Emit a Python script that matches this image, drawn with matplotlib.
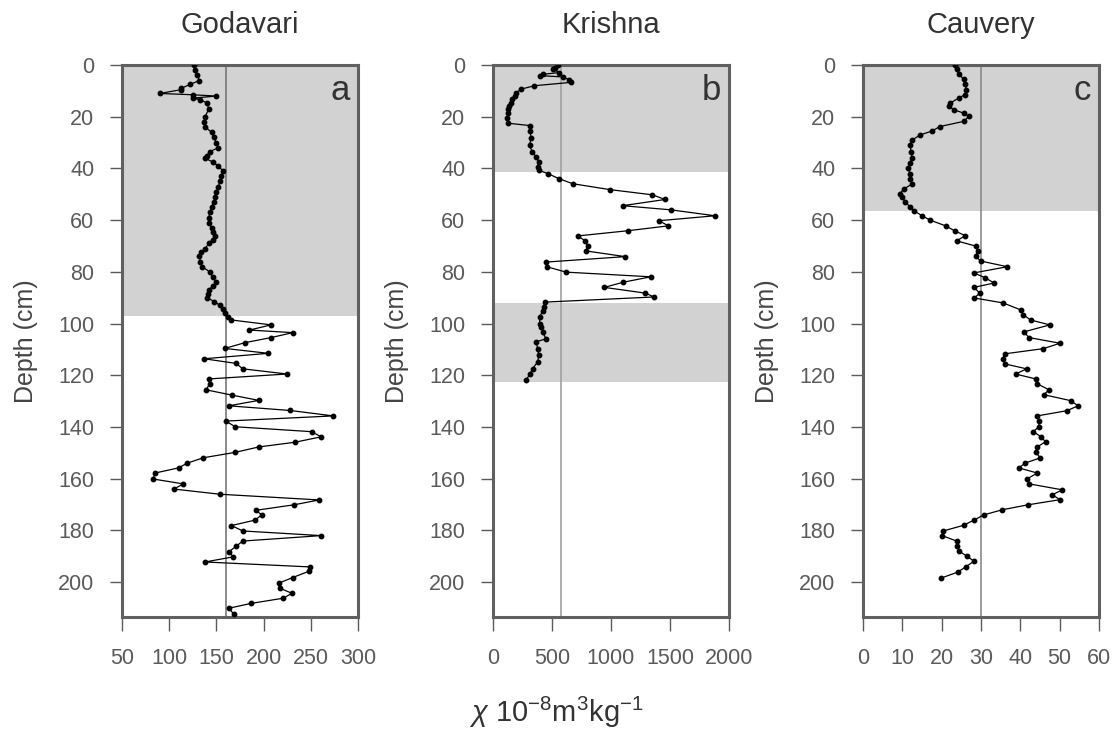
import matplotlib.pyplot as plt

plt.rcParams['font.family'] = ['Liberation Sans', 'DejaVu Sans']
plt.rcParams['mathtext.fontset'] = 'custom'
plt.rcParams['mathtext.rm'] = 'Liberation Sans'
plt.rcParams['mathtext.it'] = 'Liberation Sans:italic'

# Godavari (panel a)
depth_a = [0, 2, 4, 6, 7.5, 9, 9.5, 11, 11.5, 12, 12.8, 13.4, 14.7, 17, 20, 22, 24, 26, 28,
           30, 32, 33.5, 35, 36, 37.5, 39, 41, 43, 45, 47, 49, 51, 53, 55, 57, 59, 61, 63,
           64.5, 66, 67.5, 69, 71, 72.5, 74, 76, 78, 80, 82, 84, 85.5, 87, 88.5, 90, 91.5,
           93, 94.5, 96, 97.5, 98.6, 100.5, 102.5, 103.5, 105.4, 107.4, 109.6, 111.5, 113.6,
           115.4, 117.5, 119.5, 121.4, 123.3, 125.6, 127.7, 129.7, 131.8, 133.6, 135.7,
           137.7, 139.9, 141.8, 143.8, 145.9, 147.7, 149.8, 151.9, 154, 155.8, 157.8, 160.1,
           162, 164, 166, 168.2, 170.1, 172.2, 174, 176, 178.1, 180.2, 182, 184.1, 186.1,
           188.3, 190.2, 192.2, 194.1, 195.8, 198.2, 200.4, 202.3, 204.3, 206.2, 208.2,
           210.1, 212.5]
chi_a = [126, 127, 130, 132, 122, 113, 113, 90, 125, 150, 125, 133, 140, 142, 138, 137, 138,
         145, 147, 150, 152, 143, 140, 138, 146, 152, 157, 155, 154, 152, 150, 149, 147, 145,
         143, 142, 142, 145, 146, 149, 146, 142, 138, 134, 132, 133, 135, 143, 146, 150, 146,
         142, 141, 140, 148, 154, 157, 159, 162, 166, 208, 185, 231, 208, 180, 159, 205, 137,
         171, 178, 225, 142, 143, 139, 167, 195, 163, 228, 274, 160, 170, 251, 261, 233, 195,
         170, 136, 119, 110, 85, 83, 115, 105, 154, 259, 232, 192, 198, 191, 166, 178, 261,
         178, 171, 163, 168, 138, 249, 248, 231, 216, 217, 230, 221, 187, 163, 169]

# Krishna (panel b)
depth_b = [0, 1, 1.6, 2.9, 3.6, 4.1, 4.6, 5.7, 6.7, 8, 9.3, 10.8, 11.9, 13, 14.5, 16, 17,
           18.6, 20.5, 22.5, 23.4, 25.7, 28.3, 31, 33.5, 35.5, 37.5, 39.4, 40.7, 42, 44,
           45.9, 48.2, 50.2, 52, 54.4, 56, 58.3, 60.2, 62.2, 64.1, 66.1, 68, 70, 71.9, 74.1,
           76.2, 78, 80.1, 81.9, 84, 86, 88.2, 89.7, 91.7, 93.5, 95, 97.5, 100, 101.5, 103.3,
           105.9, 107, 109.7, 112.3, 114.9, 117.4, 119.4, 121.7]
chi_b = [551, 530, 507, 564, 420, 400, 592, 648, 663, 352, 240, 197, 183, 160, 155, 135, 127,
         127, 118, 127, 310, 315, 324, 310, 332, 366, 389, 380, 389, 465, 563, 676, 994, 1352,
         1459, 1099, 1507, 1882, 1408, 1487, 1141, 718, 783, 803, 789, 1121, 451, 456, 620,
         1338, 1104, 944, 1290, 1366, 437, 430, 422, 395, 397, 410, 420, 451, 367, 378, 389,
         378, 336, 316, 282]

# Cauvery (panel c)
depth_c = [0, 1.7, 3.6, 5.5, 7.5, 9.5, 11.4, 12.7, 14.7, 16, 17.3, 18.6, 19.9, 21.8, 23.8,
           25.5, 27, 29, 31, 33.5, 36, 38, 40, 42, 44, 46, 47.9, 49.8, 51, 53, 55, 56.3, 58.3,
           60, 62.2, 64.1, 66, 68, 70, 71.9, 73.9, 75.8, 78, 80.4, 82.3, 84.3, 86, 88.2, 90.1,
           92, 94.7, 96.5, 98.6, 100.5, 103.2, 105.4, 107.6, 109.7, 111.7, 113.6, 115.6,
           117.5, 119.5, 121.4, 123.3, 125.6, 127.5, 129.8, 131.8, 133.7, 135.7, 137.6, 139.9,
           141.8, 143.8, 145.7, 147.7, 149.8, 151.9, 153.9, 155.8, 157.8, 160, 162, 164.3,
           166.2, 168.1, 170.1, 172, 174, 176, 178, 180.2, 182, 184.1, 186.1, 188, 190, 191.9,
           194.1, 196.1, 198.4]
chi_c = [23.5, 23.8, 24.4, 25.6, 26, 26.3, 26, 24.4, 22.2, 21.8, 23.1, 25.6, 26.9, 25.6, 19.5,
         17.6, 14.6, 12.5, 12, 12.2, 12.5, 11.9, 11.4, 12, 11.9, 12.5, 10.4, 9.3, 9.9, 10.8, 12,
         12.9, 15, 17.1, 21, 23.3, 26, 23.8, 28.6, 29.2, 28.6, 29.9, 36.7, 28.2, 31.1, 33.3,
         28.2, 29.7, 28.3, 35.6, 40.1, 40.7, 42.6, 47.5, 40.9, 42.2, 50.1, 45.8, 36, 35.6,
         36.1, 41.6, 38.8, 43.9, 44.3, 47.3, 46, 52.8, 54.7, 51.8, 44.3, 44.7, 44.7, 43.3,
         45.3, 46.4, 44.3, 43.9, 45.1, 41.3, 39.6, 44.3, 41.8, 42.3, 50.7, 48.1, 50.1, 41.9,
         35.4, 30.7, 28.2, 25.6, 20.4, 20.1, 23.8, 23.9, 24.4, 26.5, 28.2, 26.1, 24.1, 19.9]

titles = ['Godavari', 'Krishna', 'Cauvery']
letters = ['a', 'b', 'c']
xlims = [(50, 300), (0, 2000), (0, 60)]
xticks = [[50, 100, 150, 200, 250, 300], [0, 500, 1000, 1500, 2000],
          [0, 10, 20, 30, 40, 50, 60]]
ref_lines = [160, 580, 30]
ref_colors = ['#777777', '#a0a0a0', '#8a8a8a']
# grey depth bands (top, bottom)
bands = [[(0, 97)], [(0, 41.3), (92, 122.5)], [(0, 56.5)]]

series = [(depth_a, chi_a), (depth_b, chi_b), (depth_c, chi_c)]

fig = plt.figure(figsize=(11.12, 7.39), dpi=100)
lefts = [0.1097, 0.4433, 0.7761]

for i in range(3):
    ax = fig.add_axes([lefts[i], 0.165, 0.2122, 0.747])
    depth, chi = series[i]

    for top, bot in bands[i]:
        ax.axhspan(top, bot, color='#d2d2d2', lw=0, zorder=0)
    ax.axvline(ref_lines[i], color=ref_colors[i], lw=1.2, zorder=1)
    ax.plot(chi, depth, color='black', lw=0.9, marker='o', ms=3.2, zorder=3)

    ax.set_xlim(*xlims[i])
    ax.set_ylim(213.5, 0)
    ax.set_xticks(xticks[i])
    ax.set_yticks(range(0, 201, 20))
    ax.tick_params(axis='both', colors='#5a5a5a', labelsize=15.5, width=1)
    ax.tick_params(axis='x', length=10, pad=12)
    ax.tick_params(axis='y', length=9, pad=11)
    for sp in ax.spines.values():
        sp.set_color('#606060')
        sp.set_linewidth(2.2)

    ax.set_ylabel('Depth (cm)', fontsize=18, color='#444444', va='center')
    ax.yaxis.set_label_coords(-0.405, 0.5)
    ax.text(0.965, 0.937, letters[i], transform=ax.transAxes, ha='right', va='baseline',
            fontsize=25, color='#333333')

    pos = ax.get_position()
    fig.text(pos.x0 + pos.width / 2, 1 - 25 / 739, titles[i], ha='center', va='center',
             fontsize=21, color='#333333')

fig.text(0.5, 1 - 712 / 739, r'$\chi$ 10$^{-8}$m$^{3}$kg$^{-1}$', ha='center',
         va='center', fontsize=21, color='#333333')

plt.savefig('out.png', dpi=100)
